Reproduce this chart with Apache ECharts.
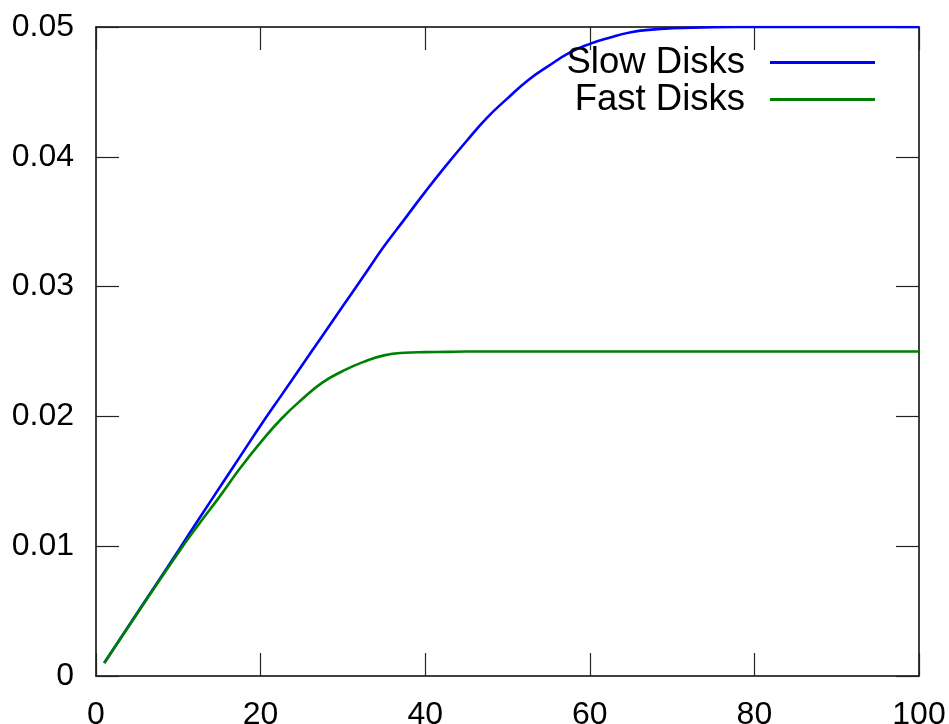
<!DOCTYPE html>
<html>
<head>
<meta charset="utf-8">
<script src="https://cdn.jsdelivr.net/npm/echarts@6/dist/echarts.min.js"></script>
<style>
html,body{margin:0;padding:0;background:#fff;}
#chart{width:949px;height:724px;}
</style>
</head>
<body>
<div id="chart"></div>
<script>
var xValues = [1, 5, 10, 12.5, 15, 17.5, 20, 22.5, 25, 27.5, 30, 32.5, 35, 37.5, 40, 42.5, 45, 47.5, 50, 52.5, 55, 57.5, 60, 62.5, 65, 67.5, 70, 75, 80, 90, 100];
var slowDisks = [0.001, 0.00485, 0.00966, 0.0121, 0.0145, 0.0169, 0.0193, 0.0216, 0.0239, 0.0262, 0.0285, 0.0308, 0.0331, 0.0352, 0.0373, 0.0393, 0.0412, 0.0430, 0.0445, 0.0459, 0.0470, 0.0480, 0.0487, 0.0492, 0.0496, 0.0498, 0.0499, 0.04998, 0.05, 0.05, 0.05];
var fastDisks = [0.001, 0.0048, 0.0095, 0.0117, 0.0138, 0.0160, 0.0180, 0.0198, 0.0213, 0.0226, 0.0235, 0.0242, 0.0247, 0.0249, 0.02495, 0.02497, 0.025, 0.025, 0.025, 0.025, 0.025, 0.025, 0.025, 0.025, 0.025, 0.025, 0.025, 0.025, 0.025, 0.025, 0.025];
var seriesNames = ['Slow Disks', 'Fast Disks'];
var seriesColors = ['#0000ff', '#008000'];
var xTicks = [0, 20, 40, 60, 80, 100];
var yTicks = [0, 0.01, 0.02, 0.03, 0.04, 0.05];

function pairs(xs, ys) { return xs.map(function (x, i) { return [x, ys[i]]; }); }

var chart = echarts.init(document.getElementById('chart'), null, {renderer: 'canvas'});
var font = 'Liberation Sans, Arial, Helvetica, sans-serif';
var axisLine = {show: true, onZero: false, lineStyle: {color: '#000', width: 1.5}};
var tick = {show: true, inside: true, length: 23, lineStyle: {color: '#222', width: 1.2}};

chart.setOption({
  animation: false,
  backgroundColor: '#fff',
  grid: {left: 96, right: 30, top: 27, bottom: 48, containLabel: false, outerBoundsMode: 'none'},
  legend: {
    orient: 'vertical',
    right: 69,
    top: 39,
    align: 'right',
    icon: 'rect',
    itemWidth: 105,
    itemHeight: 3,
    itemGap: 0,
    data: seriesNames,
    textStyle: {fontFamily: font, fontSize: 36.5, color: '#000', lineHeight: 37, padding: [0, 20, 0, 0]}
  },
  xAxis: [
    {type: 'value', min: xTicks[0], max: xTicks[xTicks.length - 1], interval: 20, position: 'bottom',
     axisLine: axisLine, axisTick: tick, splitLine: {show: false},
     axisLabel: {fontFamily: font, fontSize: 32, color: '#000', margin: 23}},
    {type: 'value', min: xTicks[0], max: xTicks[xTicks.length - 1], interval: 20, position: 'top',
     axisLine: axisLine, axisTick: tick, splitLine: {show: false}, axisLabel: {show: false}}
  ],
  yAxis: [
    {type: 'value', min: yTicks[0], max: yTicks[yTicks.length - 1], interval: 0.01, position: 'left',
     axisLine: axisLine, axisTick: tick, splitLine: {show: false},
     axisLabel: {fontFamily: font, fontSize: 32, color: '#000', margin: 22,
       formatter: function (v) { return v === 0 ? '0' : v.toFixed(2); }}},
    {type: 'value', min: yTicks[0], max: yTicks[yTicks.length - 1], interval: 0.01, position: 'right',
     axisLine: axisLine, axisTick: tick, splitLine: {show: false}, axisLabel: {show: false}}
  ],
  series: [
    {name: seriesNames[0], type: 'line', xAxisIndex: 0, yAxisIndex: 0, data: pairs(xValues, slowDisks),
     symbol: 'none', smooth: 0.5, lineStyle: {color: seriesColors[0], width: 2.6}, itemStyle: {color: seriesColors[0]}},
    {name: seriesNames[1], type: 'line', xAxisIndex: 0, yAxisIndex: 0, data: pairs(xValues, fastDisks),
     symbol: 'none', smooth: 0.5, lineStyle: {color: seriesColors[1], width: 2.6}, itemStyle: {color: seriesColors[1]}}
  ]
});
</script>
</body>
</html>
